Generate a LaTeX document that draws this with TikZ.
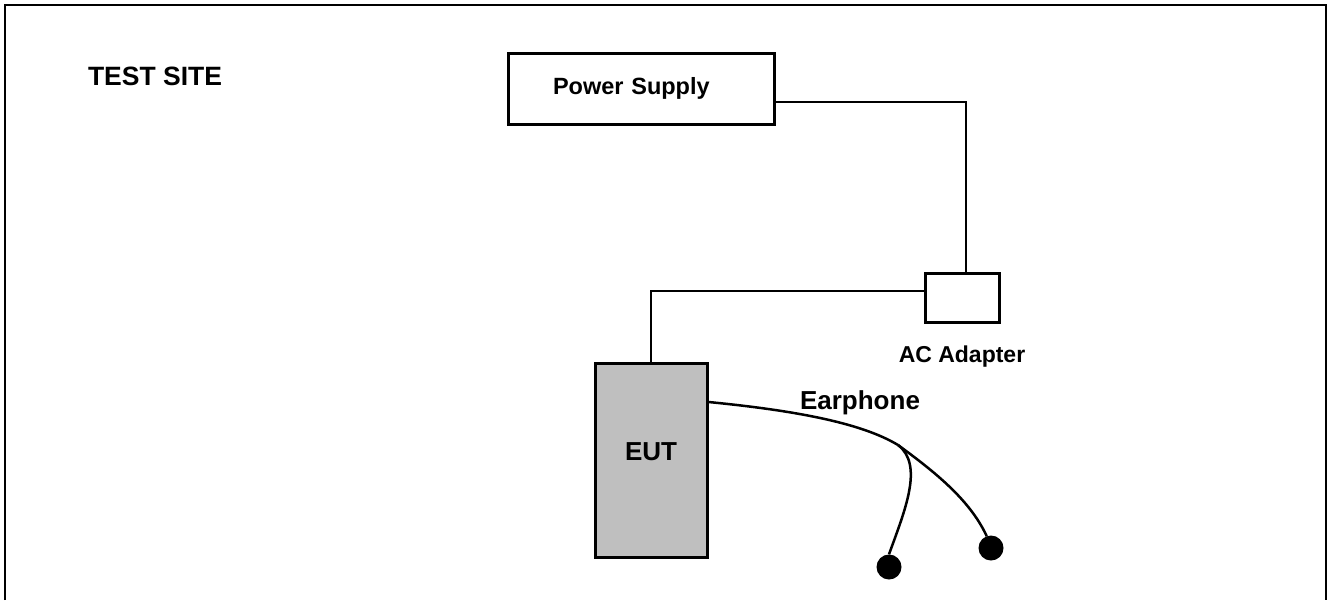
\documentclass[tikz,border=0pt]{standalone}
\usepackage{fontspec}
\setmainfont{Liberation Sans}
\usepackage{tikz}
\usetikzlibrary{positioning}

\begin{document}
\begin{tikzpicture}[
  x=1pt, y=-1pt,
  box/.style={rectangle, draw, line width=3pt, inner sep=0pt},
  lbl/.style={font=\bfseries\fontsize{23}{26}\selectfont, inner sep=0pt},
  wire/.style={draw, line width=2.5pt},
  bud/.style={circle, fill=black, minimum size=25pt, inner sep=0pt}
]
\useasboundingbox (0,0) rectangle (1331,600);
\draw[line width=2.5pt] (5,600) -- (5,5) -- (1326,5) -- (1326,600);

\node[lbl, font=\bfseries\fontsize{26.5}{30}\selectfont] (site) at (155,76) {TEST SITE};

\node[box, lbl, font=\bfseries\fontsize{23.5}{26}\selectfont, minimum height=71pt,
      text width=176pt, inner xsep=45pt, align=left] (psu) at (641,88.5) {Power Supply};
\node[box, minimum width=74pt, minimum height=49pt] (adapter) at (962,297.5) {};
\node[lbl] (adlabel) at (962,357) {AC Adapter};
\node[box, fill=black!25, minimum width=112pt, minimum height=194pt] (eut) at (651,460) {};
\node[lbl, font=\bfseries\fontsize{26}{30}\selectfont] (eutlabel) at (651,452) {EUT};
\node[lbl, font=\bfseries\fontsize{26}{30}\selectfont] (earlabel) at (860,403) {Earphone};

\node[bud] (bud1) at (889,567) {};
\node[bud] (bud2) at (991,548) {};
\coordinate (split) at (898,445);

% power path
\draw[wire] ([yshift=-13.5pt]psu.east) -| ([xshift=4pt]adapter.north);
\draw[wire] ([yshift=6.5pt]adapter.west) -| (eut.north);

% earphone cable
\draw[wire] ([yshift=58pt]eut.east) .. controls (790,410) and (860,422) .. (split);
\draw[wire] (split) .. controls (924,465) and (905,510) .. (bud1.north);
\draw[wire] (split) .. controls (935,472) and (970,500) .. (bud2.110);
\end{tikzpicture}
\end{document}
